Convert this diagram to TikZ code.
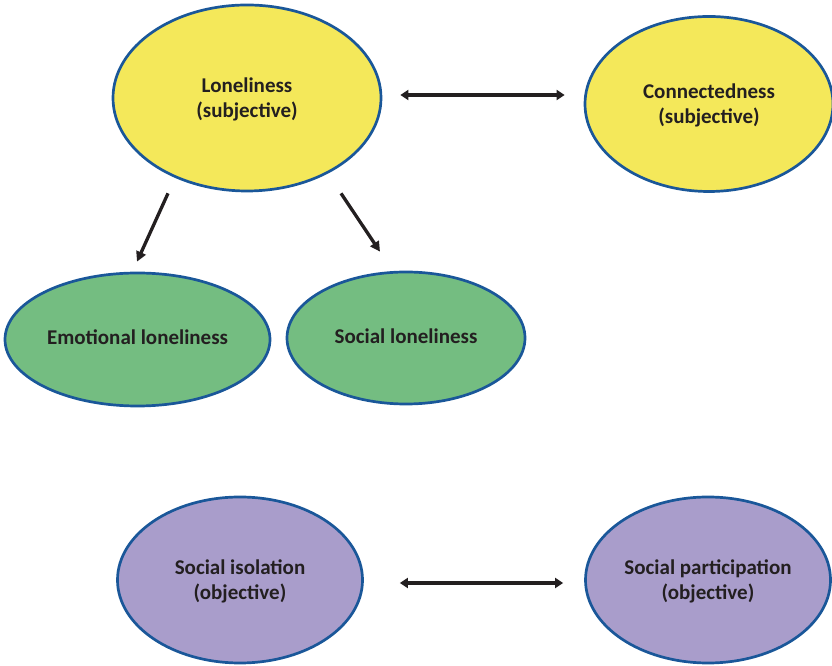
\documentclass[tikz,border=0pt]{standalone}
\usepackage{fontspec}
\setmainfont{Carlito}
\usetikzlibrary{shapes.geometric, arrows.meta}
\definecolor{sunyellow}{HTML}{F4E85A}
\definecolor{leafgreen}{HTML}{74BD81}
\definecolor{lavender}{HTML}{A99DCB}
\definecolor{rimblue}{HTML}{1A5799}
\definecolor{inkgrey}{HTML}{231F20}
\tikzset{
	bubble/.style={draw=rimblue, line width=2.7pt, ellipse, inner sep=0pt, align=center,
		text depth=0pt, text=inkgrey, font=\fontsize{21}{25}\selectfont\bfseries},
	oneway/.style={line width=3.3pt, color=inkgrey, -{Triangle[length=10pt,width=10pt]}},
	twoway/.style={line width=3.3pt, color=inkgrey, {Triangle[length=8pt,width=10pt]}-{Triangle[length=8pt,width=10pt]}}
}
\newcommand{\bubbleAt}[5][]{
	\path (#2,#3) node[bubble, #1](#4){#5};
}
\newcommand{\link}[3][]{
	\draw[#1] (#2) -- (#3);
}

\begin{document}
\begin{tikzpicture}[x=1pt, y=1pt]
	\useasboundingbox (0,0) rectangle (832,666);
	\bubbleAt[fill=sunyellow, minimum width=268pt, minimum height=186pt]{247}{568}{lone}{Loneliness\\(subjective)};
	\bubbleAt[fill=sunyellow, minimum width=248pt, minimum height=175pt]{709}{562}{conn}{Connectedness\\(subjective)};
	\bubbleAt[fill=leafgreen, minimum width=265pt, minimum height=133pt, text depth=4pt]{137.5}{326.5}{emo}{Emotional loneliness};
	\bubbleAt[fill=leafgreen, minimum width=238pt, minimum height=132pt, text depth=4pt]{406}{328}{soc}{Social loneliness};
	\bubbleAt[fill=lavender, minimum width=245pt, minimum height=166pt]{240}{86}{iso}{Social isolation\\(objective)};
	\bubbleAt[fill=lavender, minimum width=245pt, minimum height=166pt]{708}{86}{part}{Social participation\\(objective)};

	\link[twoway, shorten <=18pt, shorten >=19pt]{[yshift=3pt]lone.east}{[yshift=3pt]lone.east -| conn.west}
	\link[oneway]{[xshift=-79pt, yshift=-1pt]lone.south}{[xshift=-0.5pt, yshift=10pt]emo.north}
	\link[oneway]{[xshift=94pt, yshift=-1pt]lone.south}{[xshift=-26pt, yshift=19pt]soc.north}
	\link[twoway, shorten <=36pt, shorten >=21pt]{[yshift=-3pt]iso.east}{[yshift=-3pt]iso.east -| part.west}
\end{tikzpicture}
\end{document}
